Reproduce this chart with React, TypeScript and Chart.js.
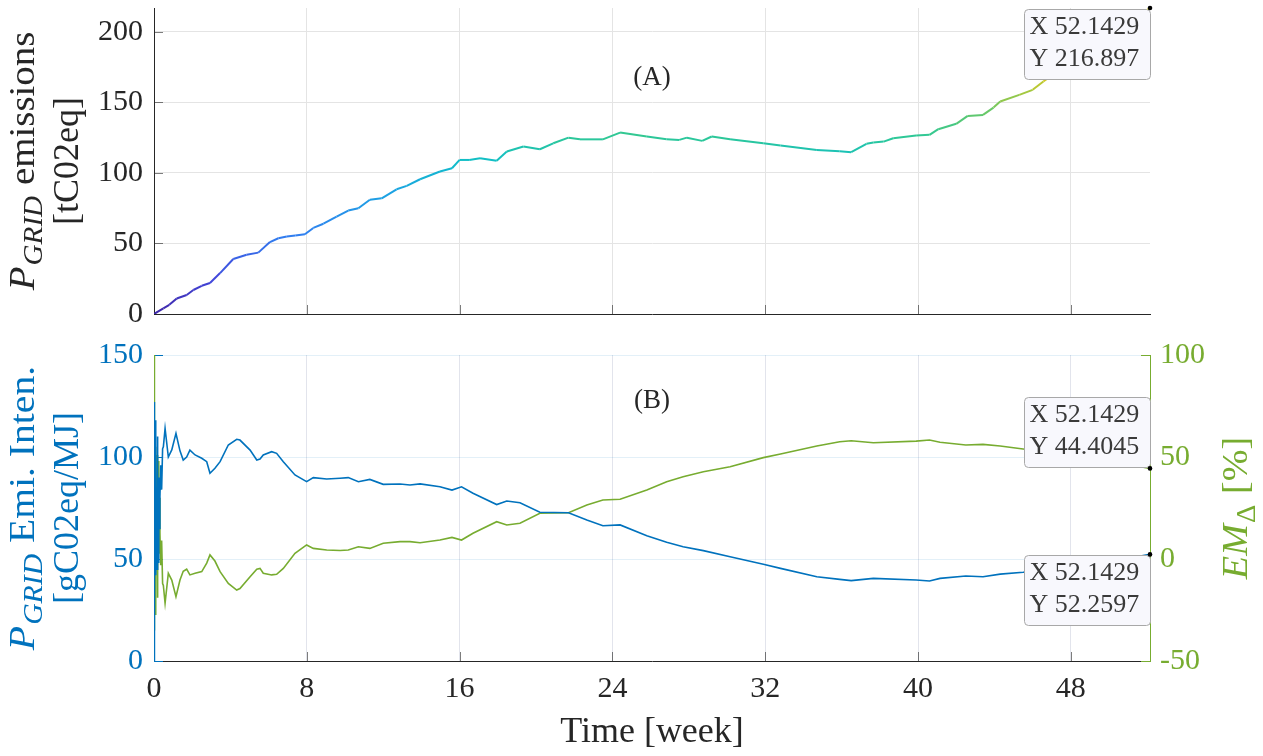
import React, { useEffect, useRef } from 'react';
import { Chart, registerables } from 'chart.js';

Chart.register(...registerables);

// ---------- data ----------
const X_MAX = 52.1429;
const X_TICKS = [0, 8, 16, 24, 32, 40, 48];
const EMISSION_TICKS = [0, 50, 100, 150, 200];
const INTENSITY_TICKS = [0, 50, 100, 150];
const EM_TICKS = [-50, 0, 50, 100];

// Panel (A): cumulative grid emissions [tC02eq]
const WEEKS_A = [
  0, 0.49, 0.8, 1.19, 1.71, 2.06, 2.5, 2.93, 3.46, 4.15, 4.85, 5.46, 6.07, 6.51, 6.95, 7.4, 7.9,
  8.34, 8.87, 9.56, 10.17, 10.7, 11.3, 11.92, 12.7, 13.23, 13.93, 14.97, 15.6, 16.0, 16.5, 17.07,
  17.94, 18.47, 19.34, 20.2, 20.9, 21.7, 22.3, 23.5, 24.4, 25.8, 26.84, 27.5, 27.9, 28.7, 29.2,
  30.16, 31.9, 32.8, 34.7, 35.9, 36.5, 37.3, 37.66, 38.2, 38.7, 39.9, 40.6, 41.06, 42.0, 42.6,
  43.4, 43.95, 44.3, 45.3, 46.0, 46.56, 47.3, 48.2, 49.2, 50.2, 51.2, 52.1429,
];
const EMISSIONS = [
  0, 4, 6.5, 11, 13.5, 17, 20, 22, 29, 39, 42, 43.5, 51, 53.7, 55, 55.6, 56.5,
  61, 64, 69, 73.3, 75, 81, 82, 88.4, 90.8, 95.5, 101, 103.3, 109.2, 109.2, 110.4,
  108.7, 115.2, 118.7, 116.8, 121, 125, 123.8, 123.8, 128.6, 125.8, 123.9, 123.4, 125, 122.7, 125.8,
  123.8, 121, 119.4, 116.3, 115.4, 114.7, 120.6, 121.5, 122.2, 124.6, 126.5, 127, 131, 134.8, 140.4,
  141.1, 146.3, 150.6, 155.3, 158.9, 164.8, 172, 180, 189, 198, 208, 216.897,
];

// Panel (B): emission intensity [gC02eq/MJ] (left) and EM delta [%] (right)
const WEEKS_B = [
  0, 0.006, 0.02, 0.04, 0.06, 0.08, 0.1, 0.12, 0.14, 0.16, 0.18, 0.2, 0.22, 0.24, 0.26, 0.28,
  0.31, 0.35, 0.4, 0.45, 0.49, 0.58, 0.75, 0.93, 1.15, 1.36, 1.53, 1.71, 1.88, 2.15, 2.5, 2.76,
  2.93, 3.19, 3.46, 3.89, 4.33, 4.5, 5.03, 5.38, 5.55, 5.72, 6.16, 6.42, 6.77, 7.38, 7.99, 8.34,
  9.04, 9.74, 10.17, 10.7, 11.3, 12.0, 12.88, 13.4, 13.93, 14.97, 15.6, 16.1, 16.7, 17.94, 18.47,
  19.16, 20.2, 21.7, 22.66, 23.5, 24.4, 25.8, 26.84, 27.7, 28.76, 30.16, 31.9, 32.8, 34.7, 35.9,
  36.5, 37.66, 39.9, 40.6, 41.15, 42.5, 43.4, 44.3, 45.5, 46.8, 48.2, 49.6, 51.0, 52.1429,
];
const INTENSITY = [
  0, 127, 95, 55, 118, 42, 100, 66, 85, 45, 110, 60, 90, 48, 82, 65,
  80.5, 96, 84, 104, 105, 114, 100, 103.5, 111.6, 103, 98.5, 100, 103.4, 101, 99.4, 97.7,
  92, 94.5, 97.7, 105.9, 108.7, 108.3, 103.4, 98.5, 99, 101, 102.6, 101.8, 97.7, 91.2, 87.9, 89.9,
  89.2, 89.6, 89.9, 87.9, 89, 86.6, 86.8, 86.3, 86.8, 85.4, 83.8, 85.4, 82.2, 76.7, 78.4,
  77.6, 72.9, 72.7, 69.1, 66.3, 66.7, 61.4, 58.2, 56, 54.1, 51.1, 47.4, 45.4, 41.3, 40,
  39.4, 40.5, 39.7, 39.2, 40.5, 41.7, 41.3, 42.6, 43.5, 44.8, 46.6, 48.5, 50.4, 52.2597,
];
const EM_DELTA = [
  100, -35, -2, 41, -27, 55, -8, 29, 8, 51, -19, 35, 3, 48, 12, 30,
  13, -3, 9, -12, -13, -21.7, -7, -10.3, -18.5, -10.3, -6, -5, -7.8, -7, -6.2, -2,
  2, -1, -6.2, -12, -15.2, -14.5, -8.7, -5, -4.6, -7, -7.8, -7.5, -4.6, 2.8, 6.9, 5.2,
  4.4, 4.2, 4.4, 6, 5.2, 7.7, 8.5, 8.5, 8, 9.3, 10.6, 9.3, 12.6, 18.3, 16.7,
  17.5, 22.4, 22.7, 26.5, 28.9, 29.3, 33.8, 37.9, 40.3, 42.8, 45.2, 49.7, 51.5, 55.4, 57.5,
  58, 57, 57.8, 58.3, 57.2, 55.9, 56.2, 55.4, 53.9, 52.3, 50.3, 48.2, 46.3, 44.4045,
];

// ---------- styles ----------
const SERIF = '"Liberation Serif", "Times New Roman", serif';
const DARK = '#262626';
const BLUE = '#0072BD';
const GREEN = '#77AC30';
const W = 1263;
const H = 756;

const PARULA: [number, number[]][] = [
  [0.0, [62, 38, 168]],
  [0.12, [66, 72, 220]],
  [0.26, [48, 128, 240]],
  [0.4, [27, 164, 226]],
  [0.5, [16, 190, 200]],
  [0.58, [46, 200, 150]],
  [0.67, [110, 200, 100]],
  [0.76, [200, 200, 40]],
  [0.88, [245, 200, 58]],
  [1.0, [249, 251, 20]],
];

function parula(t: number): string {
  const v = Math.max(0, Math.min(1, t));
  for (let i = 1; i < PARULA.length; i++) {
    const [t1, c1] = PARULA[i];
    const [t0, c0] = PARULA[i - 1];
    if (v <= t1) {
      const f = (v - t0) / (t1 - t0);
      const c = c0.map((a, k) => Math.round(a + (c1[k] - a) * f));
      return `rgb(${c[0]},${c[1]},${c[2]})`;
    }
  }
  const c = PARULA[PARULA.length - 1][1];
  return `rgb(${c[0]},${c[1]},${c[2]})`;
}

type Part = { t: string; italic?: boolean; sub?: boolean };

function drawRich(
  ctx: CanvasRenderingContext2D,
  parts: Part[],
  bx: number,
  cy: number,
  size: number,
  color: string,
  stretch = 1
) {
  ctx.save();
  ctx.translate(bx, cy);
  ctx.rotate(-Math.PI / 2);
  ctx.scale(stretch, 1);
  ctx.fillStyle = color;
  ctx.textBaseline = 'alphabetic';
  ctx.textAlign = 'left';
  const fontOf = (p: Part) => `${p.italic ? 'italic ' : ''}${p.sub ? Math.round(size * 0.74) : size}px ${SERIF}`;
  let total = 0;
  const widths = parts.map((p) => {
    ctx.font = fontOf(p);
    const w = ctx.measureText(p.t).width + (p.sub ? 2 : 0);
    total += w;
    return w;
  });
  let x = -total / 2;
  parts.forEach((p, i) => {
    ctx.font = fontOf(p);
    ctx.fillText(p.t, x + (p.sub ? 1 : 0), p.sub ? size * 0.22 : 0);
    x += widths[i];
  });
  ctx.restore();
}

const fmt = (v: number) => String(Number(v.toPrecision(6)));

function drawTip(ctx: CanvasRenderingContext2D, px: number, py: number, xv: number, yv: number, above: boolean) {
  const w = 126;
  const h = 70;
  const left = Math.round(px - w) + 0.5;
  const top = Math.round(above ? py - h - 1 : py + 1) + 0.5;
  ctx.save();
  ctx.beginPath();
  const r = 4;
  ctx.moveTo(left + r, top);
  ctx.lineTo(left + w - r, top);
  ctx.quadraticCurveTo(left + w, top, left + w, top + r);
  ctx.lineTo(left + w, top + h - r);
  ctx.quadraticCurveTo(left + w, top + h, left + w - r, top + h);
  ctx.lineTo(left + r, top + h);
  ctx.quadraticCurveTo(left, top + h, left, top + h - r);
  ctx.lineTo(left, top + r);
  ctx.quadraticCurveTo(left, top, left + r, top);
  ctx.closePath();
  ctx.fillStyle = '#f8f8fd';
  ctx.fill();
  ctx.strokeStyle = '#a8a8a8';
  ctx.lineWidth = 1;
  ctx.stroke();
  ctx.fillStyle = '#3a3a3a';
  ctx.font = `26px ${SERIF}`;
  ctx.textAlign = 'left';
  ctx.textBaseline = 'alphabetic';
  ctx.fillText('X ' + fmt(xv), left + 5, top + 24);
  ctx.fillText('Y ' + fmt(yv), left + 5, top + 56);
  ctx.beginPath();
  ctx.arc(px, py, 2.3, 0, Math.PI * 2);
  ctx.fillStyle = '#000';
  ctx.fill();
  ctx.restore();
}

function drawInnerTicks(ctx: CanvasRenderingContext2D, chart: any, specs: { id: string; color: string; side: string }[]) {
  const a = chart.chartArea;
  ctx.save();
  ctx.lineWidth = 1;
  specs.forEach((s) => {
    const sc = chart.scales[s.id];
    ctx.strokeStyle = s.color;
    sc.ticks.forEach((t: any) => {
      const p = Math.round(sc.getPixelForValue(t.value)) + 0.5;
      ctx.beginPath();
      if (s.side === 'bottom') {
        ctx.moveTo(p, a.bottom);
        ctx.lineTo(p, a.bottom - 9);
      } else if (s.side === 'left') {
        ctx.moveTo(a.left, p);
        ctx.lineTo(a.left + 9, p);
      } else {
        ctx.moveTo(a.right, p);
        ctx.lineTo(a.right - 9, p);
      }
      ctx.stroke();
    });
  });
  ctx.restore();
}

const clear = 'rgba(0,0,0,0)';

export default function App() {
  const topRef = useRef<HTMLCanvasElement>(null);
  const botRef = useRef<HTMLCanvasElement>(null);

  useEffect(() => {
    const yMaxA = Math.max(...EMISSIONS);
    const topPlugin = {
      id: 'topDeco',
      beforeDatasetsDraw(chart: any) {
        drawInnerTicks(chart.ctx, chart, [
          { id: 'x', color: 'rgba(38,38,38,0.6)', side: 'bottom' },
          { id: 'y', color: 'rgba(38,38,38,0.6)', side: 'left' },
        ]);
      },
      afterDraw(chart: any) {
        const ctx = chart.ctx as CanvasRenderingContext2D;
        const a = chart.chartArea;
        const cy = (a.top + a.bottom) / 2;
        drawRich(ctx, [{ t: 'P', italic: true }, { t: 'GRID', italic: true, sub: true }, { t: ' emissions' }], 34, cy, 36, DARK, 1.08);
        drawRich(ctx, [{ t: '[tC02eq]' }], 78, cy, 36, DARK);
        ctx.save();
        ctx.fillStyle = DARK;
        ctx.font = `27px ${SERIF}`;
        ctx.textAlign = 'center';
        ctx.textBaseline = 'alphabetic';
        ctx.fillText('(A)', (a.left + a.right) / 2, 85);
        ctx.restore();
        const n = WEEKS_A.length - 1;
        const px = chart.scales.x.getPixelForValue(WEEKS_A[n]);
        const py = chart.scales.y.getPixelForValue(EMISSIONS[n]);
        drawTip(ctx, px, py, WEEKS_A[n], EMISSIONS[n], false);
      },
    };

    const top = new Chart(topRef.current as HTMLCanvasElement, {
      type: 'line',
      data: {
        datasets: [
          {
            data: WEEKS_A.map((w, i) => ({ x: w, y: EMISSIONS[i] })),
            borderWidth: 2,
            pointRadius: 0,
            tension: 0,
            borderColor: parula(0.5),
            segment: {
              borderColor: (c: any) => parula((c.p0.parsed.y + c.p1.parsed.y) / 2 / yMaxA),
            },
          },
        ],
      },
      options: {
        responsive: false,
        animation: false,
        events: [],
        layout: { padding: { top: 8, left: 0, right: W - 1150, bottom: 0 }, autoPadding: false },
        plugins: { legend: { display: false }, tooltip: { enabled: false } },
        scales: {
          x: {
            type: 'linear',
            min: 0,
            max: X_MAX,
            afterBuildTicks: (s: any) => {
              s.ticks = X_TICKS.map((v) => ({ value: v }));
            },
            afterFit: (s: any) => {
              s.height = H - 314;
              s.paddingLeft = 0;
              s.paddingRight = 0;
            },
            ticks: { display: false },
            grid: { color: (c: any) => (c.tick && c.tick.value === 0 ? clear : '#e4e4e4'), drawTicks: false },
            border: { color: DARK, width: 1 },
          },
          y: {
            type: 'linear',
            min: 0,
            max: yMaxA,
            afterBuildTicks: (s: any) => {
              s.ticks = EMISSION_TICKS.map((v) => ({ value: v }));
            },
            afterFit: (s: any) => {
              s.width = 154;
              s.paddingTop = 0;
              s.paddingBottom = 0;
            },
            ticks: { color: DARK, font: { family: SERIF, size: 30 }, padding: 11 },
            grid: { color: (c: any) => (c.tick && c.tick.value === 0 ? clear : '#e4e4e4'), drawTicks: false },
            border: { color: DARK, width: 1 },
          },
        },
      },
      plugins: [topPlugin],
    } as any);

    const botPlugin = {
      id: 'botDeco',
      beforeDatasetsDraw(chart: any) {
        drawInnerTicks(chart.ctx, chart, [
          { id: 'x', color: 'rgba(38,38,38,0.6)', side: 'bottom' },
          { id: 'y', color: BLUE, side: 'left' },
          { id: 'y1', color: GREEN, side: 'right' },
        ]);
      },
      afterDraw(chart: any) {
        const ctx = chart.ctx as CanvasRenderingContext2D;
        const a = chart.chartArea;
        const cy = (a.top + a.bottom) / 2;
        drawRich(ctx, [{ t: 'P', italic: true }, { t: 'GRID', italic: true, sub: true }, { t: ' Emi. Inten.' }], 34, cy, 36, BLUE, 1.1);
        drawRich(ctx, [{ t: '[gC02eq/MJ]' }], 78, cy, 36, BLUE);
        drawRich(ctx, [{ t: 'EM', italic: true }, { t: 'Δ', sub: true }, { t: ' [%]' }], 1247, cy, 36, GREEN, 1.06);
        ctx.save();
        ctx.fillStyle = DARK;
        ctx.textAlign = 'center';
        ctx.textBaseline = 'alphabetic';
        ctx.font = `27px ${SERIF}`;
        ctx.fillText('(B)', (a.left + a.right) / 2, 408);
        ctx.font = `36px ${SERIF}`;
        ctx.fillText('Time [week]', (a.left + a.right) / 2, 742);
        ctx.restore();
        const n = WEEKS_B.length - 1;
        const px = chart.scales.x.getPixelForValue(WEEKS_B[n]);
        const pyG = chart.scales.y1.getPixelForValue(EM_DELTA[n]);
        const pyB = chart.scales.y.getPixelForValue(INTENSITY[n]);
        drawTip(ctx, px, pyG, WEEKS_B[n], EM_DELTA[n], true);
        drawTip(ctx, px, pyB, WEEKS_B[n], INTENSITY[n], false);
      },
    };

    const bot = new Chart(botRef.current as HTMLCanvasElement, {
      type: 'line',
      data: {
        datasets: [
          {
            data: WEEKS_B.map((w, i) => ({ x: w, y: INTENSITY[i] })),
            yAxisID: 'y',
            borderColor: BLUE,
            borderWidth: 1.6,
            pointRadius: 0,
            tension: 0,
          },
          {
            data: WEEKS_B.map((w, i) => ({ x: w, y: EM_DELTA[i] })),
            yAxisID: 'y1',
            borderColor: GREEN,
            borderWidth: 1.6,
            pointRadius: 0,
            tension: 0,
          },
        ],
      },
      options: {
        responsive: false,
        animation: false,
        events: [],
        layout: { padding: { top: 355, left: 0, right: 0, bottom: 0 }, autoPadding: false },
        plugins: { legend: { display: false }, tooltip: { enabled: false } },
        scales: {
          x: {
            type: 'linear',
            min: 0,
            max: X_MAX,
            afterBuildTicks: (s: any) => {
              s.ticks = X_TICKS.map((v) => ({ value: v }));
            },
            afterFit: (s: any) => {
              s.height = H - 661;
              s.paddingLeft = 0;
              s.paddingRight = 0;
            },
            ticks: { color: DARK, font: { family: SERIF, size: 30 }, padding: 10, maxRotation: 0, autoSkip: false },
            grid: { color: (c: any) => (c.tick && c.tick.value === 0 ? clear : '#e2e4ec'), drawTicks: false },
            border: { color: DARK, width: 1 },
          },
          y: {
            type: 'linear',
            position: 'left',
            min: 0,
            max: 150,
            afterBuildTicks: (s: any) => {
              s.ticks = INTENSITY_TICKS.map((v) => ({ value: v }));
            },
            afterFit: (s: any) => {
              s.width = 154;
              s.paddingTop = 0;
              s.paddingBottom = 0;
            },
            ticks: { color: BLUE, font: { family: SERIF, size: 30 }, padding: 11 },
            grid: { color: (c: any) => (c.tick && c.tick.value === 0 ? clear : 'rgba(0,114,189,0.11)'), drawTicks: false },
            border: { color: BLUE, width: 1 },
          },
          y1: {
            type: 'linear',
            position: 'right',
            min: -50,
            max: 100,
            afterBuildTicks: (s: any) => {
              s.ticks = EM_TICKS.map((v) => ({ value: v }));
            },
            afterFit: (s: any) => {
              s.width = W - 1150;
              s.paddingTop = 0;
              s.paddingBottom = 0;
            },
            ticks: { color: GREEN, font: { family: SERIF, size: 30 }, padding: 10 },
            grid: { display: false, drawTicks: false },
            border: { color: GREEN, width: 1 },
          },
        },
      },
      plugins: [botPlugin],
    } as any);

    return () => {
      top.destroy();
      bot.destroy();
    };
  }, []);

  return (
    <div style={{ position: 'absolute', left: 0, top: 0, width: W, height: H, background: '#fff' }}>
      <canvas ref={botRef} width={W} height={H} style={{ position: 'absolute', left: 0, top: 0 }} />
      <canvas ref={topRef} width={W} height={H} style={{ position: 'absolute', left: 0, top: 0 }} />
    </div>
  );
}
